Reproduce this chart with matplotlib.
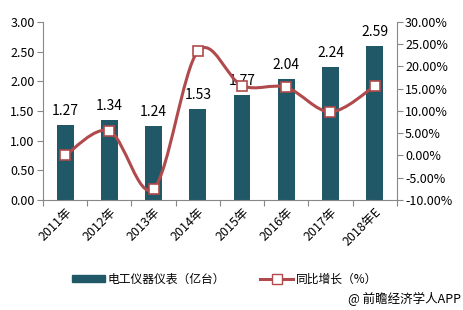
import numpy as np
import matplotlib
matplotlib.use("Agg")
import matplotlib.pyplot as plt
from matplotlib.path import Path
from matplotlib.patches import PathPatch
from matplotlib.lines import Line2D
from matplotlib.patches import Patch

plt.rcParams['font.family'] = ['Noto Sans CJK SC', 'DejaVu Sans']

years = ["2011年", "2012年", "2013年", "2014年", "2015年", "2016年", "2017年", "2018年E"]
output = [1.27, 1.34, 1.24, 1.53, 1.77, 2.04, 2.24, 2.59]
growth = [0.0, 5.5, -7.5, 23.4, 15.7, 15.3, 9.8, 15.6]

bar_color = "#215868"
line_color = "#b04a4c"

fig = plt.figure(figsize=(4.63, 3.10), dpi=100)
ax = fig.add_axes([0.093, 0.355, 0.764, 0.574])
x = np.arange(len(years))

ax.bar(x, output, width=0.38, color=bar_color, zorder=2)
for xi, v in zip(x, output):
    ax.text(xi, v + 0.12, "%.2f" % v, ha="center", va="bottom", fontsize=10)

ax.set_xlim(-0.5, len(years) - 0.5)
ax.set_ylim(0, 3)
ax.set_yticks(np.arange(0, 3.01, 0.5))
ax.set_yticklabels(["%.2f" % t for t in np.arange(0, 3.01, 0.5)], fontsize=9)
ax.set_xticks(np.arange(-0.5, len(years), 1), minor=False)
ax.set_xticklabels([])
ax.set_xticks(x, minor=True)
ax.set_xticklabels(years, minor=True, rotation=45, ha="right", rotation_mode="anchor", fontsize=9)
ax.tick_params(axis="x", which="minor", length=0, pad=4)
ax.tick_params(axis="x", which="major", length=4, color="#888888", direction="out")
ax.tick_params(axis="y", length=4, color="#888888", pad=2)
for s in ["top", "right"]:
    ax.spines[s].set_visible(False)
for s in ["left", "bottom"]:
    ax.spines[s].set_color("#888888")

ax2 = ax.twinx()
ax2.set_ylim(-10, 30)
ax2.set_yticks(np.arange(-10, 30.1, 5))
ax2.set_yticklabels(["%.2f%%" % t for t in np.arange(-10, 30.1, 5)], fontsize=9)
ax2.tick_params(axis="y", length=4, color="#888888", pad=2)
for s in ["top", "left", "bottom"]:
    ax2.spines[s].set_visible(False)
ax2.spines["right"].set_color("#888888")

# smoothed line (Catmull-Rom drawn as bezier path)
pts = np.column_stack([x, growth]).astype(float)
verts = [pts[0]]
codes = [Path.MOVETO]
for i in range(len(pts) - 1):
    p0 = pts[i - 1] if i > 0 else pts[i]
    p1 = pts[i]
    p2 = pts[i + 1]
    p3 = pts[i + 2] if i + 2 < len(pts) else pts[i + 1]
    c1 = p1 + (p2 - p0) / 6.0
    c2 = p2 - (p3 - p1) / 6.0
    verts += [c1, c2, p2]
    codes += [Path.CURVE4] * 3
ax2.add_patch(PathPatch(Path(verts, codes), fill=False, edgecolor=line_color, lw=2.2, zorder=3))
ax2.plot(x, growth, ls="none", marker="s", ms=7, mfc="white", mec=line_color, mew=1.2, zorder=4)

handles = [Patch(facecolor=bar_color, edgecolor=bar_color),
           Line2D([], [], color=line_color, lw=2.2, marker="s", ms=7, mfc="white", mec=line_color)]
fig.legend(handles, ["电工仪器仪表（亿台）", "同比增长（%）"], loc="center", bbox_to_anchor=(0.485, 0.1),
           ncol=2, frameon=False, fontsize=8.5, handlelength=2.8, handleheight=0.6,
           columnspacing=3.0, handletextpad=0.2)

fig.text(0.995, 0.035, "@ 前瞻经济学人APP", ha="right", va="center", fontsize=9)

fig.savefig("out.png", dpi=100)
